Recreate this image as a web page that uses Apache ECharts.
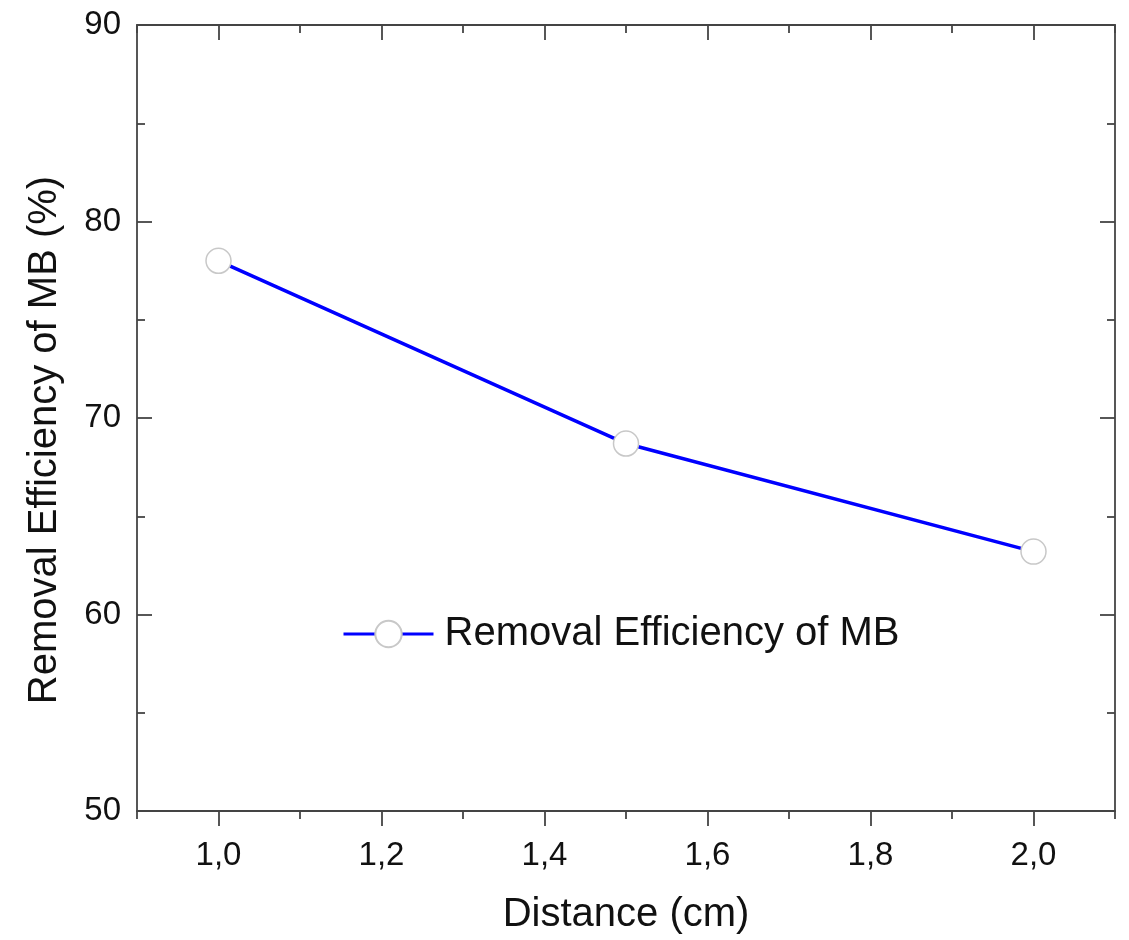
<!DOCTYPE html>
<html>
<head>
<meta charset="utf-8">
<script src="https://cdn.jsdelivr.net/npm/echarts@6/dist/echarts.min.js"></script>
<style>
  html, body { margin: 0; padding: 0; background: #fff; }
  #chart { width: 1129px; height: 940px; }
</style>
</head>
<body>
<div id="chart"></div>
<script>
// data
const distance = [1.0, 1.5, 2.0];
const removal = [78.0, 68.7, 63.2];
const xMajor = [1.0, 1.2, 1.4, 1.6, 1.8, 2.0];
const xMinor = [0.9, 1.1, 1.3, 1.5, 1.7, 1.9, 2.1];
const seriesName = 'Removal Efficiency of MB';

const axisColor = '#444';
const font = 'Liberation Sans, Arial, sans-serif';

const chart = echarts.init(document.getElementById('chart'));

const fmt = v => v.toFixed(1).replace('.', ',');

chart.setOption({
  animation: false,
  backgroundColor: '#fff',
  grid: { left: 137, right: 14, top: 25, bottom: 128, containLabel: false },
  legend: {
    left: 337, top: 609,
    itemWidth: 90, itemHeight: 33, itemGap: 10,
    lineStyle: { width: 3 },
    textStyle: { fontSize: 40, color: '#111', fontFamily: font, padding: [0, 0, 0, 6] },
    data: [seriesName]
  },
  xAxis: [
    {
      type: 'value', position: 'bottom', min: 0.9, max: 2.1,
      name: 'Distance (cm)', nameLocation: 'middle', nameGap: 84,
      nameTextStyle: { fontSize: 40, color: '#111', fontFamily: font },
      axisLine: { lineStyle: { color: axisColor, width: 1.8 } },
      axisTick: { customValues: xMajor, length: 15, inside: false, lineStyle: { color: axisColor, width: 1.8 } },
      axisLabel: { customValues: xMajor, formatter: fmt, fontSize: 33, color: '#111', margin: 28, fontFamily: font },
      splitLine: { show: false }
    },
    {
      type: 'value', position: 'bottom', min: 0.9, max: 2.1,
      axisLine: { show: false },
      axisTick: { customValues: xMinor, length: 8, inside: false, lineStyle: { color: axisColor, width: 1.8 } },
      axisLabel: { show: false },
      splitLine: { show: false }
    },
    {
      type: 'value', position: 'top', min: 0.9, max: 2.1,
      axisLine: { lineStyle: { color: axisColor, width: 1.8 } },
      axisTick: { customValues: xMajor, length: 15, inside: true, lineStyle: { color: axisColor, width: 1.8 } },
      axisLabel: { show: false },
      splitLine: { show: false }
    },
    {
      type: 'value', position: 'top', min: 0.9, max: 2.1,
      axisLine: { show: false },
      axisTick: { customValues: xMinor, length: 8, inside: true, lineStyle: { color: axisColor, width: 1.8 } },
      axisLabel: { show: false },
      splitLine: { show: false }
    }
  ],
  yAxis: [
    {
      type: 'value', position: 'left', min: 50, max: 90, interval: 10,
      name: 'Removal Efficiency of MB (%)', nameLocation: 'middle', nameGap: 72,
      nameTextStyle: { fontSize: 40, color: '#111', fontFamily: font, padding: [0, 44, 0, 0] },
      axisLine: { show: true, lineStyle: { color: axisColor, width: 1.8 } },
      axisTick: { show: true, inside: true, length: 15, lineStyle: { color: axisColor, width: 1.8 } },
      minorTick: { show: true, splitNumber: 2, length: 8, lineStyle: { color: axisColor, width: 1.8 } },
      axisLabel: { fontSize: 33, color: '#111', margin: 16, fontFamily: font },
      splitLine: { show: false }
    },
    {
      type: 'value', position: 'right', min: 50, max: 90, interval: 10,
      axisLine: { show: true, lineStyle: { color: axisColor, width: 1.8 } },
      axisTick: { show: true, inside: true, length: 15, lineStyle: { color: axisColor, width: 1.8 } },
      minorTick: { show: true, splitNumber: 2, length: 8, lineStyle: { color: axisColor, width: 1.8 } },
      axisLabel: { show: false },
      splitLine: { show: false }
    }
  ],
  series: [
    {
      name: seriesName,
      type: 'line',
      xAxisIndex: 0, yAxisIndex: 0,
      data: distance.map((d, i) => [d, removal[i]]),
      symbol: 'circle', symbolSize: 25,
      itemStyle: { color: '#fff', borderColor: '#c8c8c8', borderWidth: 1.5 },
      lineStyle: { color: '#0000ff', width: 3.5 },
      emphasis: { disabled: true }
    }
  ]
});
</script>
</body>
</html>
